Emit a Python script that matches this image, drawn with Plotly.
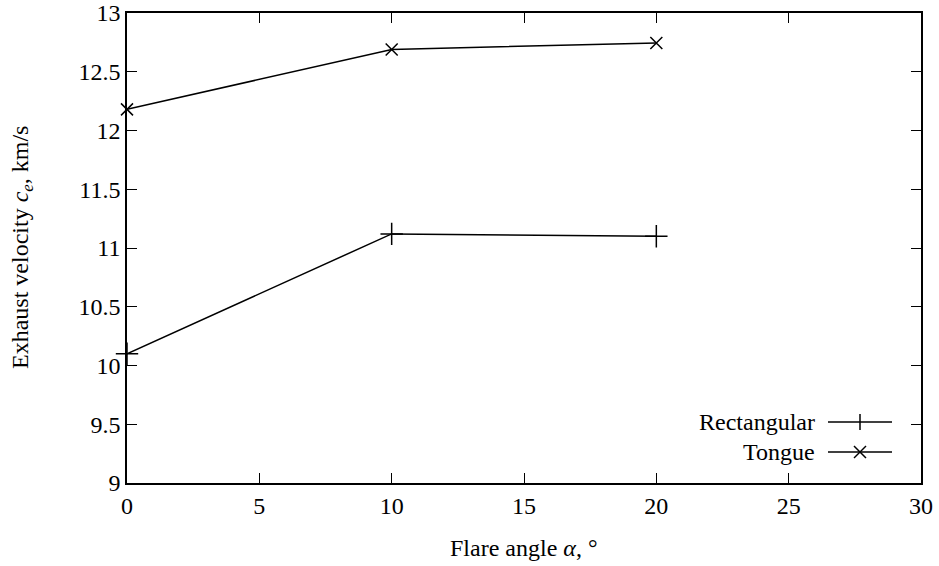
import plotly.graph_objects as go

angles = [0, 10, 20]
rect_vals = [10.10, 11.12, 11.10]
tongue_vals = [12.18, 12.69, 12.745]
series_names = ["Rectangular", "Tongue"]
x_ticks = [0, 5, 10, 15, 20, 25, 30]
y_ticks = [9, 9.5, 10, 10.5, 11, 11.5, 12, 12.5, 13]
x_title = "Flare angle <i>α</i>, °"
y_title = "Exhaust velocity <i>c</i><sub><i>e</i></sub>, km/s"

FONT = "Liberation Serif"
FS = 24
fig = go.Figure()
fig.add_trace(go.Scatter(x=angles, y=rect_vals, mode="lines+markers", name=series_names[0],
                         cliponaxis=False,
                         line=dict(color="black", width=1.5),
                         marker=dict(symbol="cross-thin", size=16, line=dict(color="black", width=1.5))))
fig.add_trace(go.Scatter(x=angles, y=tongue_vals, mode="lines+markers", name=series_names[1],
                         cliponaxis=False,
                         line=dict(color="black", width=1.5),
                         marker=dict(symbol="x-thin", size=12, line=dict(color="black", width=1.5))))

axis_common = dict(showline=True, linecolor="black", linewidth=1.5, mirror="allticks",
                   ticks="inside", ticklen=10, tickwidth=1, tickcolor="black", automargin=False,
                   showgrid=False, zeroline=False, tickfont=dict(family=FONT, size=FS, color="black"))
fig.update_xaxes(range=[0, 30], tickvals=x_ticks, ticktext=[str(v) for v in x_ticks], **axis_common)
fig.update_yaxes(range=[9, 13], tickvals=y_ticks, ticktext=[f"{v:g}" for v in y_ticks], **axis_common)

W, H = 939, 566
ml, mr, mt, mb = 127, 18, 13, 83
pw, ph = W - ml - mr, H - mt - mb
def px(xp): return (xp - ml) / pw
def py(yp): return 1 - (yp - mt) / ph

tfont = dict(family=FONT, size=FS, color="black")
annotations = [
    dict(text=x_title, x=0.5, y=py(548), xref="paper", yref="paper", xanchor="center", yanchor="middle",
         showarrow=False, font=tfont),
    dict(text=y_title, x=px(22), y=0.5, xref="paper", yref="paper", xanchor="center", yanchor="middle",
         textangle=-90, showarrow=False, font=tfont),
]
shapes = []
# custom legend (text right-aligned, sample on the right, gnuplot style)
legend_rows = [(series_names[0], 422, "cross"), (series_names[1], 452, "x")]
for name, yp, sym in legend_rows:
    annotations.append(dict(text=name, x=px(817), y=py(yp), xref="paper", yref="paper",
                            xanchor="right", yanchor="middle", showarrow=False, font=tfont))
    shapes.append(dict(type="line", xref="paper", yref="paper", x0=px(828), x1=px(892), y0=py(yp), y1=py(yp),
                       line=dict(color="black", width=1.5)))
    if sym == "cross":
        shapes.append(dict(type="line", xref="paper", yref="paper", x0=px(860), x1=px(860), y0=py(yp - 8), y1=py(yp + 8),
                           line=dict(color="black", width=1.5)))
    else:
        shapes.append(dict(type="line", xref="paper", yref="paper", x0=px(854), x1=px(866), y0=py(yp - 6), y1=py(yp + 6),
                           line=dict(color="black", width=1.5)))
        shapes.append(dict(type="line", xref="paper", yref="paper", x0=px(854), x1=px(866), y0=py(yp + 6), y1=py(yp - 6),
                           line=dict(color="black", width=1.5)))

fig.update_layout(width=W, height=H, margin=dict(l=ml, r=mr, t=mt, b=mb),
                  font=dict(family=FONT, size=FS, color="black"),
                  plot_bgcolor="white", paper_bgcolor="white", showlegend=False,
                  shapes=shapes, annotations=annotations)
fig.write_html("out.html")
